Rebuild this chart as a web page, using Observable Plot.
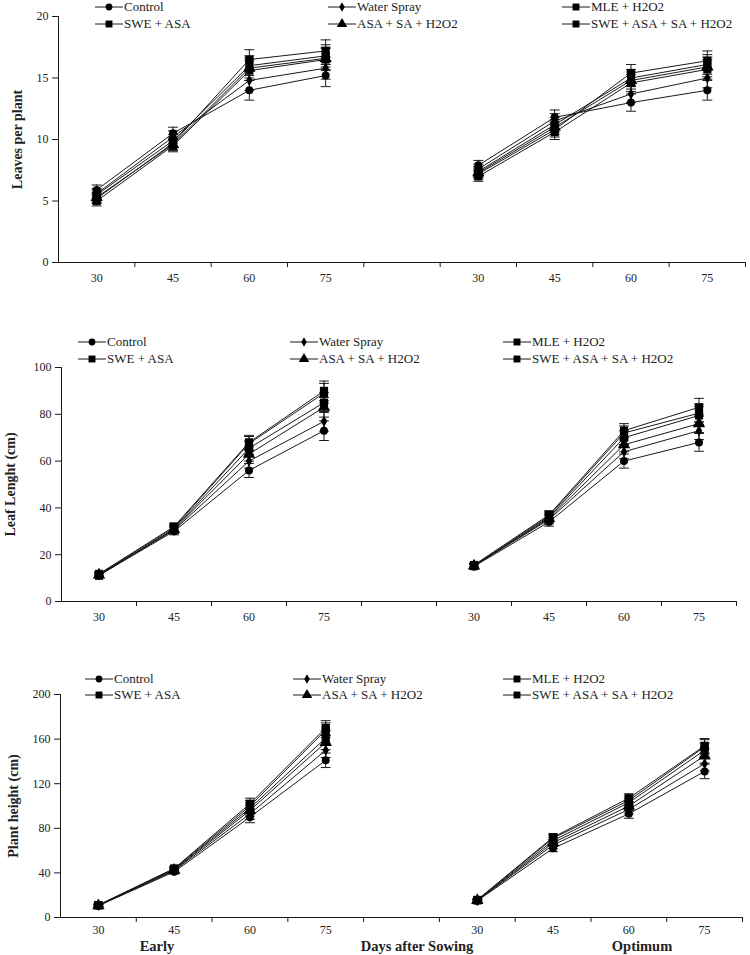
<!DOCTYPE html>
<html><head><meta charset="utf-8">
<script src="https://cdn.jsdelivr.net/npm/d3@7"></script>
<script src="https://cdn.jsdelivr.net/npm/@observablehq/plot@0.6"></script>
<style>
body{margin:0;background:#fff;}
#chart{position:relative;width:750px;height:955px;font-family:"Liberation Serif","Times New Roman",serif;color:#222;overflow:hidden;}
#chart svg.panel{position:absolute;left:0;}
.legend-item{position:absolute;display:flex;align-items:center;font-size:13px;white-space:nowrap;height:14px;line-height:14px;}
.legend-item svg{display:block;margin-right:1px;overflow:visible}
.sublabel{position:absolute;font-weight:bold;font-size:14.5px;line-height:16px;transform:translateX(-50%);white-space:nowrap}
g[aria-label="y-axis label"] text{font-weight:bold;font-size:14px}
</style>
</head><body><div id="chart"></div>
<script>
// ---- data ----
const days = ["30", "45", "60", "75"];
const sowings = ["Early", "Optimum"];
const treatments = ["Control", "Water Spray", "MLE + H2O2", "SWE + ASA", "ASA + SA + H2O2", "SWE + ASA + SA + H2O2"];
const groupLabels = ["Early", "Days after Sowing", "Optimum"];

// each row: treatment; values: Early 30,45,60,75 then Optimum 30,45,60,75
const leavesPerPlant = [
  [5.9, 10.5, 14.0, 15.2, 7.9, 11.8, 13.0, 14.0],
  [5.6, 10.2, 14.8, 15.8, 7.6, 11.5, 13.7, 15.0],
  [5.0, 9.5, 15.6, 16.5, 7.0, 10.6, 14.6, 15.7],
  [5.2, 9.7, 16.5, 17.2, 7.2, 10.8, 15.4, 16.4],
  [5.3, 9.6, 15.8, 16.6, 7.3, 11.0, 14.8, 15.9],
  [5.5, 9.9, 16.0, 16.8, 7.4, 11.2, 15.0, 16.1]
];
const leavesErr = [0.4, 0.5, 0.8, 0.9, 0.4, 0.6, 0.7, 0.8];

const leafLength = [
  [11.2, 30.0, 56.0, 73.0, 15.0, 34.0, 60.0, 68.0],
  [11.5, 30.5, 60.0, 77.0, 15.3, 35.0, 64.0, 73.0],
  [11.0, 31.0, 65.5, 85.0, 15.1, 36.0, 70.0, 79.5],
  [11.8, 32.0, 68.0, 90.0, 15.6, 37.0, 73.0, 83.0],
  [11.4, 30.8, 63.0, 83.0, 15.2, 35.5, 67.0, 76.0],
  [11.6, 31.5, 67.5, 89.0, 15.4, 36.5, 72.0, 80.5]
];
const leafLengthErr = [0.8, 1.5, 3.0, 4.2, 0.8, 1.8, 3.0, 3.8];

const plantHeight = [
  [10.5, 41.0, 90.0, 141.0, 15.0, 62.0, 93.0, 131.0],
  [10.8, 42.0, 93.0, 150.0, 15.2, 65.0, 97.0, 138.0],
  [11.0, 43.0, 98.0, 161.0, 15.4, 69.0, 103.0, 150.0],
  [11.2, 44.0, 102.0, 170.0, 15.8, 72.0, 107.0, 154.0],
  [10.7, 42.5, 96.0, 157.0, 15.3, 67.0, 100.0, 145.0],
  [11.0, 43.5, 100.0, 168.0, 15.6, 71.0, 105.0, 153.0]
];
const plantHeightErr = [1.0, 2.0, 5.0, 6.5, 1.0, 3.0, 4.0, 6.5];

const leavesTicks = [0, 5, 10, 15, 20];
const leafLengthTicks = [0, 20, 40, 60, 80, 100];
const plantHeightTicks = [0, 40, 80, 120, 160, 200];

// ---- styling ----
const shapes = ["circle", "diamond", "square", "square", "triangle", "square"];
const sizes = [4, 3.4, 4.6, 4.6, 4.6, 4.6];
const ink = "#1a1a1a";

function buildRows(values, errs) {
  const rows = [];
  treatments.forEach((t, ti) => {
    values[ti].forEach((v, k) => {
      const s = Math.floor(k / 4), d = k % 4;
      rows.push({treatment: t, ti, sowing: sowings[s], day: days[d], slot: s * 5 + d + 0.5, value: v, err: errs[k]});
    });
  });
  return rows;
}

const chart = document.getElementById("chart");

function panel(cfg) {
  const rows = buildRows(cfg.values, cfg.errs);
  const slots = Array.from(new Set(rows.map(d => d.slot)));
  const svg = Plot.plot({
    width: 750,
    height: cfg.height,
    marginTop: cfg.marginTop,
    marginBottom: cfg.marginBottom,
    marginLeft: cfg.marginLeft,
    marginRight: cfg.marginRight,
    style: {fontFamily: "'Liberation Serif', 'Times New Roman', serif", fontSize: "12px", color: "#222", background: "transparent", overflow: "visible"},
    x: {domain: [0, 9]},
    y: {domain: [cfg.ticks[0], cfg.ticks[cfg.ticks.length - 1]]},
    symbol: {domain: treatments, range: shapes},
    r: {type: "identity"},
    marks: [
      Plot.ruleY([cfg.ticks[0]], {stroke: ink, strokeWidth: 1}),
      Plot.ruleX([0], {stroke: ink, strokeWidth: 1}),
      Plot.axisX(d3.range(1, 10), {tickFormat: () => "", tickSize: 5, stroke: ink, label: null}),
      Plot.axisX(slots, {tickSize: 0, tickPadding: cfg.xPad, tickFormat: s => days[Math.floor(s) % 5], label: null}),
      Plot.axisY(cfg.ticks, {tickSize: 6, tickPadding: 4, stroke: ink, label: cfg.label, labelAnchor: "center", labelOffset: cfg.labelOffset, labelArrow: "none"}),
      Plot.line(rows, {x: "slot", y: "value", z: d => d.treatment + d.sowing, stroke: ink, strokeWidth: 1}),
      Plot.ruleX(rows, {x: "slot", y1: d => d.value - d.err, y2: d => d.value + d.err, stroke: ink, strokeWidth: 1}),
      Plot.link(rows, {x1: d => d.slot - 0.065, x2: d => d.slot + 0.065, y1: d => d.value + d.err, y2: d => d.value + d.err, stroke: ink, strokeWidth: 1}),
      Plot.link(rows, {x1: d => d.slot - 0.065, x2: d => d.slot + 0.065, y1: d => d.value - d.err, y2: d => d.value - d.err, stroke: ink, strokeWidth: 1}),
      Plot.dot(rows, {x: "slot", y: "value", symbol: "treatment", r: d => sizes[d.ti], fill: "#000", stroke: "none"})
    ]
  });
  svg.classList.add("panel");
  svg.style.top = cfg.top + "px";
  chart.appendChild(svg);

  // legend
  treatments.forEach((t, i) => {
    const row = Math.floor(i / 3), col = i % 3;
    const item = document.createElement("div");
    item.className = "legend-item";
    item.style.left = cfg.legendCols[col] + "px";
    item.style.top = (cfg.legendRows[row] - 7) + "px";
    const w = 28;
    const ls = d3.create("svg").attr("width", w).attr("height", 14);
    ls.append("line").attr("x1", 0).attr("x2", w).attr("y1", 7).attr("y2", 7).attr("stroke", ink).attr("stroke-width", 1);
    const symType = {circle: d3.symbolCircle, diamond: d3.symbolDiamond, square: d3.symbolSquare, triangle: d3.symbolTriangle}[shapes[i]];
    const r = sizes[i] * 0.85;
    ls.append("path").attr("transform", `translate(${w / 2},7)`).attr("d", d3.symbol(symType, Math.PI * r * r)()).attr("fill", "#000");
    item.appendChild(ls.node());
    const span = document.createElement("span");
    span.textContent = t;
    item.appendChild(span);
    chart.appendChild(item);
  });
}

panel({values: leavesPerPlant, errs: leavesErr, ticks: leavesTicks, label: "Leaves per plant",
  top: 0, height: 292, marginTop: 16, marginBottom: 30, marginLeft: 58, marginRight: 5, labelOffset: 46, xPad: 11,
  legendCols: [95, 328, 562], legendRows: [7, 24]});
panel({values: leafLength, errs: leafLengthErr, ticks: leafLengthTicks, label: "Leaf Lenght (cm)",
  top: 300, height: 330, marginTop: 67, marginBottom: 29, marginLeft: 61, marginRight: 14, labelOffset: 56, xPad: 11,
  legendCols: [78, 290, 503], legendRows: [342, 359]});
panel({values: plantHeight, errs: plantHeightErr, ticks: plantHeightTicks, label: "Plant height (cm)",
  top: 630, height: 325, marginTop: 64, marginBottom: 38, marginLeft: 60, marginRight: 8, labelOffset: 52, xPad: 8,
  legendCols: [85, 293, 503], legendRows: [679, 695]});

// group labels under the bottom panel
const groupX = [157, 417, 642];
groupLabels.forEach((g, i) => {
  const el = document.createElement("div");
  el.className = "sublabel";
  el.style.left = groupX[i] + "px";
  el.style.top = "938px";
  el.textContent = g;
  chart.appendChild(el);
});
</script>
</body></html>
